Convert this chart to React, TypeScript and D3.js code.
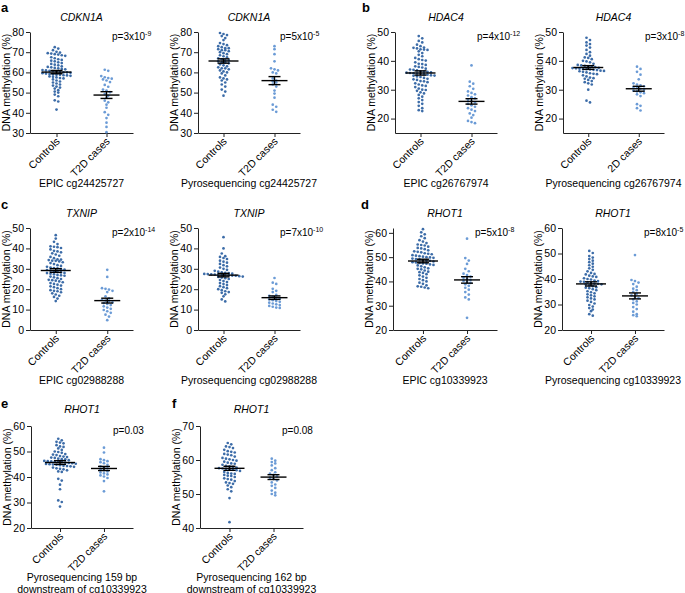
import * as d3 from "d3";
import { useEffect, useRef } from "react";

// values (% methylation)
const cdknEpicControls = [72.5, 71.8, 71.0, 70.2, 69.8, 69.5, 69.3, 69.0, 68.8, 68.5, 68.2, 67.5, 67.0, 66.5, 66.2, 65.8, 65.5, 65.0, 64.6, 64.2, 63.8, 63.5, 63.0, 62.7, 62.5, 62.2, 62.0, 61.7, 61.5, 61.2, 61.0, 60.8, 60.6, 60.4, 60.2, 60.0, 60.0, 59.8, 59.6, 59.4, 59.2, 59.0, 58.8, 58.8, 58.6, 58.5, 58.3, 58.0, 57.8, 57.5, 57.2, 57.0, 56.5, 56.0, 55.5, 55.0, 54.5, 54.0, 53.5, 53.0, 52.5, 52.0, 51.2, 50.5, 50.0, 49.0, 48.2, 46.2, 45.6, 41.6];
const cdknEpicCases = [61.3, 60.8, 58.2, 57.6, 57.2, 56.9, 56.5, 56.0, 55.2, 53.8, 52.9, 51.5, 51.0, 50.2, 49.3, 48.4, 47.5, 46.0, 45.2, 44.0, 42.5, 40.3, 39.0, 37.4, 35.1, 33.0, 30.4];
const cdknPyroControls = [79.5, 79.0, 78.5, 78.0, 77.0, 76.0, 74.5, 74.0, 73.5, 73.0, 72.5, 72.0, 72.0, 71.5, 71.0, 71.0, 70.5, 70.0, 69.5, 69.0, 68.5, 68.0, 67.5, 67.0, 66.5, 66.0, 66.0, 65.5, 65.0, 65.0, 64.5, 64.0, 63.5, 63.0, 62.5, 62.0, 62.0, 61.5, 61.0, 60.5, 60.0, 59.5, 58.5, 57.5, 57.0, 56.5, 56.0, 55.0, 54.0, 53.0, 51.5, 50.5, 48.5];
const cdknPyroCases = [73.0, 71.5, 69.0, 65.5, 62.0, 61.5, 61.0, 60.0, 59.5, 57.0, 56.0, 55.5, 55.0, 54.0, 53.0, 51.0, 49.5, 47.5, 44.0, 43.0, 41.5, 40.5];

const hdacEpicControls = [48.6, 47.8, 46.9, 46.4, 45.6, 45.1, 44.6, 44.5, 44.3, 44.0, 43.9, 43.8, 43.3, 42.7, 42.1, 41.6, 41.0, 40.6, 40.3, 40.1, 39.5, 39.0, 38.9, 38.6, 38.1, 37.9, 37.7, 37.3, 37.0, 36.9, 36.7, 36.4, 36.3, 36.2, 36.0, 35.9, 35.8, 35.7, 35.6, 35.5, 35.4, 35.2, 35.0, 34.9, 34.8, 34.6, 34.4, 34.1, 33.8, 33.6, 33.4, 33.0, 32.9, 32.6, 32.2, 31.8, 31.5, 31.3, 30.9, 30.4, 30.0, 29.9, 29.6, 29.1, 28.7, 28.2, 27.6, 27.0, 26.4, 25.7, 25.1, 24.4, 23.6, 22.9, 22.6];
const hdacEpicCases = [38.4, 32.8, 32.1, 31.2, 30.3, 29.4, 28.9, 28.4, 28.0, 27.4, 27.0, 26.5, 26.0, 25.6, 25.1, 24.6, 24.1, 23.6, 23.1, 22.6, 21.8, 21.2, 20.3, 19.2, 18.8, 18.4];
const hdacPyroControls = [48.0, 47.2, 46.4, 45.8, 45.3, 44.6, 43.8, 43.0, 42.4, 41.8, 41.2, 41.0, 40.6, 40.0, 39.8, 39.5, 39.0, 38.6, 38.4, 38.3, 38.1, 38.0, 37.8, 37.6, 37.5, 37.4, 37.3, 37.2, 37.1, 37.0, 36.9, 36.8, 36.6, 36.5, 36.4, 36.2, 36.0, 35.7, 35.5, 35.4, 35.0, 34.6, 34.2, 34.0, 33.8, 33.4, 33.0, 32.6, 32.2, 31.8, 30.0, 26.2, 25.6];
const hdacPyroCases = [38.0, 37.2, 36.2, 35.2, 33.6, 32.2, 31.8, 31.5, 31.2, 30.9, 30.6, 30.3, 30.0, 29.7, 29.4, 29.1, 28.8, 28.4, 27.8, 25.0, 24.4, 23.6, 22.8];

const txnipEpicControls = [46.5, 44.8, 43.2, 42.1, 41.0, 40.8, 40.6, 40.2, 39.5, 38.8, 38.5, 38.1, 37.6, 37.0, 36.4, 35.8, 35.2, 34.6, 34.5, 34.3, 34.0, 33.9, 33.6, 33.2, 32.8, 32.3, 31.8, 31.4, 31.0, 30.6, 30.4, 30.2, 29.8, 29.6, 29.4, 29.1, 28.8, 28.5, 28.2, 28.0, 27.9, 27.6, 27.3, 27.0, 26.8, 26.6, 26.2, 25.8, 25.4, 25.0, 24.6, 24.4, 24.2, 23.8, 23.4, 23.0, 22.6, 22.2, 21.8, 21.4, 21.0, 20.5, 20.0, 19.5, 19.2, 19.0, 18.5, 18.0, 17.4, 16.8, 16.2, 15.4, 14.2];
const txnipEpicCases = [29.5, 26.0, 20.5, 20.2, 19.8, 19.2, 18.6, 16.5, 15.5, 14.8, 14.4, 14.0, 13.6, 13.2, 12.8, 12.2, 11.6, 11.0, 10.4, 9.8, 9.2, 8.4, 7.5, 6.6, 4.8];
const txnipPyroControls = [45.5, 40.0, 37.5, 36.2, 35.8, 35.3, 34.8, 34.0, 33.5, 33.0, 32.4, 31.8, 31.2, 30.6, 30.0, 29.5, 29.0, 28.6, 28.2, 28.0, 27.9, 27.6, 27.5, 27.4, 27.3, 27.2, 27.1, 27.0, 26.9, 26.8, 26.7, 26.6, 26.4, 26.2, 26.0, 25.7, 25.4, 25.0, 24.5, 24.0, 23.5, 23.0, 22.5, 22.0, 21.5, 21.0, 20.5, 20.0, 19.5, 19.0, 18.6, 18.2, 17.5, 16.5, 15.0, 14.0];
const txnipPyroCases = [25.5, 23.2, 22.6, 20.2, 19.2, 18.6, 17.2, 16.8, 16.3, 15.8, 15.4, 15.0, 14.6, 14.2, 13.8, 13.4, 13.0, 12.6, 12.2, 11.8, 11.4, 11.0, 10.8];

const rhotEpicControls = [61.5, 60.2, 59.4, 58.6, 57.8, 57.0, 56.4, 55.8, 55.2, 55.0, 54.8, 54.3, 53.8, 53.6, 53.3, 52.8, 52.4, 52.2, 52.0, 51.6, 51.4, 51.2, 50.8, 50.6, 50.4, 50.2, 50.0, 49.9, 49.7, 49.4, 49.2, 49.1, 48.8, 48.6, 48.5, 48.2, 47.9, 47.8, 47.6, 47.4, 47.3, 47.0, 46.8, 46.6, 46.2, 45.8, 45.4, 45.2, 45.0, 44.5, 44.0, 43.8, 43.5, 43.0, 42.5, 42.0, 41.5, 41.0, 40.5, 40.0, 39.5, 39.0, 38.4, 38.0, 37.8, 37.5, 37.2];
const rhotEpicCases = [57.6, 49.6, 48.6, 47.2, 45.2, 44.2, 43.2, 42.6, 42.0, 41.5, 41.0, 40.6, 40.2, 39.8, 39.4, 38.8, 38.2, 37.4, 36.6, 35.6, 34.6, 33.4, 32.6, 25.0];
const rhotPyroControls = [51.0, 50.2, 49.0, 48.4, 47.8, 47.2, 46.6, 46.0, 45.4, 44.8, 44.2, 43.6, 43.0, 42.4, 42.0, 41.8, 41.3, 41.0, 40.8, 40.3, 40.0, 39.8, 39.4, 39.2, 39.0, 38.9, 38.7, 38.4, 38.2, 38.1, 37.9, 37.8, 37.5, 37.2, 36.8, 36.6, 36.4, 36.0, 35.6, 35.2, 34.8, 34.4, 34.0, 33.6, 33.2, 32.8, 32.4, 32.0, 31.5, 31.0, 30.4, 29.8, 29.2, 28.6, 28.0, 27.4, 26.2, 25.6];
const rhotPyroCases = [49.4, 39.6, 39.2, 38.6, 38.0, 37.0, 36.2, 35.6, 35.0, 34.2, 33.6, 33.0, 32.5, 32.0, 31.2, 30.6, 30.0, 29.0, 28.2, 27.2, 26.2, 25.8, 25.4];

const rhot159Controls = [55.0, 54.4, 53.8, 53.5, 53.2, 52.5, 52.0, 51.8, 51.2, 50.6, 50.0, 49.8, 49.5, 49.0, 48.8, 48.6, 48.2, 48.0, 47.8, 47.6, 47.5, 47.2, 47.0, 46.9, 46.6, 46.3, 46.2, 46.1, 46.0, 45.9, 45.8, 45.6, 45.5, 45.4, 45.2, 45.1, 45.0, 44.9, 44.8, 44.6, 44.4, 44.3, 44.2, 44.0, 43.7, 43.4, 43.2, 43.0, 42.6, 42.2, 42.0, 39.3, 38.6, 37.0, 35.2, 30.8, 30.2, 28.4];
const rhot159Cases = [51.5, 49.6, 47.0, 46.6, 46.2, 45.8, 45.4, 44.8, 44.2, 43.8, 43.4, 43.0, 42.6, 42.2, 41.8, 41.4, 41.0, 40.6, 40.2, 39.6, 38.4, 34.4];
const rhot162Controls = [65.0, 64.6, 64.0, 63.8, 63.5, 63.0, 62.6, 62.4, 62.2, 61.8, 61.6, 61.4, 61.0, 60.6, 60.4, 60.2, 60.0, 59.8, 59.5, 59.2, 59.0, 58.9, 58.6, 58.3, 58.1, 58.0, 57.8, 57.6, 57.5, 57.4, 57.2, 57.1, 57.0, 56.8, 56.5, 56.2, 56.0, 55.9, 55.6, 55.4, 55.3, 55.0, 54.6, 54.4, 54.2, 53.8, 53.4, 53.2, 53.0, 52.5, 52.0, 51.4, 50.8, 48.8, 41.7];
const rhot162Cases = [60.4, 59.8, 59.4, 59.0, 58.4, 57.6, 57.0, 56.4, 56.0, 55.6, 55.2, 54.8, 54.4, 54.0, 53.4, 52.8, 52.4, 51.8, 51.0, 50.4, 50.0, 49.6];

const genes = ["CDKN1A", "CDKN1A", "HDAC4", "HDAC4", "TXNIP", "TXNIP", "RHOT1", "RHOT1", "RHOT1", "RHOT1"];
const pValues = ["3x10^-9", "5x10^-5", "4x10^-12", "3x10^-8", "2x10^-14", "7x10^-10", "5x10^-8", "8x10^-5", "0.03", "0.08"];
const captions = [
  ["EPIC cg24425727"], ["Pyrosequencing cg24425727"],
  ["EPIC cg26767974"], ["Pyrosequencing cg26767974"],
  ["EPIC cg02988288"], ["Pyrosequencing cg02988288"],
  ["EPIC cg10339923"], ["Pyrosequencing cg10339923"],
  ["Pyrosequencing 159 bp", "downstream of cg10339923"],
  ["Pyrosequencing 162 bp", "downstream of cg10339923"],
];
const caseLabels = ["T2D cases", "T2D cases", "T2D cases", "2D cases", "T2D cases", "T2D cases", "T2D cases", "T2D cases", "T2D cases", "T2D cases"];
const yDomains = [[30, 80], [30, 80], [15, 50], [15, 50], [0, 50], [0, 50], [20, 62], [20, 60], [20, 60], [40, 70]];
const yTicks = [
  [30, 40, 50, 60, 70, 80], [30, 40, 50, 60, 70, 80],
  [20, 30, 40, 50], [20, 30, 40, 50],
  [0, 10, 20, 30, 40, 50], [0, 10, 20, 30, 40, 50],
  [20, 30, 40, 50, 60], [20, 30, 40, 50, 60],
  [20, 30, 40, 50, 60], [40, 50, 60, 70],
];
const controls = [cdknEpicControls, cdknPyroControls, hdacEpicControls, hdacPyroControls, txnipEpicControls, txnipPyroControls, rhotEpicControls, rhotPyroControls, rhot159Controls, rhot162Controls];
const cases = [cdknEpicCases, cdknPyroCases, hdacEpicCases, hdacPyroCases, txnipEpicCases, txnipPyroCases, rhotEpicCases, rhotPyroCases, rhot159Cases, rhot162Cases];
const panelLetters = ["a", "b", "c", "d", "e", "f"];

// layout
const frames = [
  { left: 30, right: 133, row: 0, pad: 0.53 },
  { left: 198, right: 300, row: 0, pad: 0.5 },
  { left: 395, right: 497, row: 0, pad: 0.5 },
  { left: 563, right: 664, row: 0, pad: 0.5 },
  { left: 30, right: 133, row: 1, pad: 0.5 },
  { left: 198, right: 300, row: 1, pad: 0.5 },
  { left: 393, right: 497, row: 1, pad: 0.68 },
  { left: 562, right: 664, row: 1, pad: 0.66 },
  { left: 31, right: 133, row: 2, pad: 0.66 },
  { left: 200, right: 303, row: 2, pad: 0.67 },
];
const rows = [
  { top: 32, bottom: 133, title: 21, caption: 187, letter: 12 },
  { top: 228, bottom: 330, title: 217, caption: 384, letter: 209 },
  { top: 426, bottom: 528, title: 413, caption: 581, letter: 408 },
];
const letterPos = [[1, 0], [362, 0], [1, 1], [361, 1], [1, 2], [172, 2]];

const FONT = "'Liberation Sans', Arial, Helvetica, sans-serif";
const CONTROL_COLOR = "#3c6ca8";
const CASE_COLOR = "#6b9bd6";

// GraphPad-like scatter: points grouped in rows, spread sideways
function swarm(values: number[], y: (v: number) => number, cx: number) {
  const pts = values.map((v) => ({ v, py: y(v) })).sort((a, b) => a.py - b.py);
  const out: { x: number; y: number }[] = [];
  let row: { v: number; py: number }[] = [];
  const flush = () => {
    row.forEach((p, i) => out.push({ x: cx + (i - (row.length - 1) / 2) * 3.5, y: p.py }));
    row = [];
  };
  pts.forEach((p) => {
    if (row.length && p.py - row[0].py > 3.0) flush();
    row.push(p);
  });
  flush();
  return out;
}

const App = () => {
  const svgRef = useRef<SVGSVGElement>(null);

  useEffect(() => {
    document.body.style.margin = "0";
    const svg = d3.select(svgRef.current);
    svg.selectAll("*").remove();

    frames.forEach((f, i) => {
      const r = rows[f.row];
      const g = svg.append("g");
      const y = d3.scaleLinear().domain(yDomains[i]).range([r.bottom, r.top]);
      const x = d3.scalePoint<string>().domain(["Controls", caseLabels[i]]).range([f.left, f.right]).padding(f.pad);

      // axes
      const yAxis = g.append("g").attr("transform", `translate(${f.left},0)`)
        .call(d3.axisLeft(y).tickValues(yTicks[i]).tickSize(4).tickSizeOuter(0).tickPadding(2));
      const xAxis = g.append("g").attr("transform", `translate(0,${r.bottom})`)
        .call(d3.axisBottom(x).tickSize(4).tickSizeOuter(0).tickFormat(() => ""));
      [yAxis, xAxis].forEach((a) => {
        a.selectAll("path,line").attr("stroke", "#222").attr("stroke-width", 1);
        a.selectAll("text").attr("font-family", FONT).attr("font-size", 10.5).attr("fill", "#000");
      });

      x.domain().forEach((c) => {
        g.append("text")
          .attr("transform", `translate(${(x(c) as number) + 4},${r.bottom + 9}) rotate(-45)`)
          .attr("text-anchor", "end")
          .attr("font-family", FONT).attr("font-size", 10.5)
          .text(c);
      });

      // y label
      g.append("text")
        .attr("transform", `translate(${f.left - 20},${(r.top + r.bottom) / 2}) rotate(-90)`)
        .attr("text-anchor", "middle")
        .attr("font-family", FONT).attr("font-size", 10.5)
        .text("DNA methylation (%)");

      // title
      g.append("text")
        .attr("x", (f.left + f.right) / 2).attr("y", r.title)
        .attr("text-anchor", "middle").attr("font-style", "italic")
        .attr("font-family", FONT).attr("font-size", 10.5)
        .text(genes[i]);

      // caption
      captions[i].forEach((line, k) => {
        g.append("text")
          .attr("x", (f.left + f.right) / 2).attr("y", r.caption + k * 11.5)
          .attr("text-anchor", "middle")
          .attr("font-family", FONT).attr("font-size", 10.5)
          .text(line);
      });

      // p-value
      const [base, exp] = pValues[i].split("^");
      const pt = g.append("text")
        .attr("x", f.left + 82).attr("y", r.top + 8)
        .attr("font-family", FONT).attr("font-size", 10)
        .text(`p=${base}`);
      if (exp) pt.append("tspan").attr("dy", -4).attr("font-size", 7).text(exp);

      // dots, mean and SEM
      [controls[i], cases[i]].forEach((vals, k) => {
        const cx = x(x.domain()[k]) as number;
        const color = k === 0 ? CONTROL_COLOR : CASE_COLOR;
        g.append("g").selectAll("circle")
          .data(swarm(vals, y, cx))
          .join("circle")
          .attr("cx", (d) => d.x).attr("cy", (d) => d.y)
          .attr("r", 1.35).attr("fill", color);

        const m = d3.mean(vals) as number;
        const sem = (d3.deviation(vals) as number) / Math.sqrt(vals.length);
        const half = k === 0 ? 15 : 13;
        const lines = [
          [cx - half, y(m), cx + half, y(m)],
          [cx, y(m - sem), cx, y(m + sem)],
          [cx - 6, y(m - sem), cx + 6, y(m - sem)],
          [cx - 6, y(m + sem), cx + 6, y(m + sem)],
        ];
        g.append("g").selectAll("line").data(lines).join("line")
          .attr("x1", (d) => d[0]).attr("y1", (d) => d[1])
          .attr("x2", (d) => d[2]).attr("y2", (d) => d[3])
          .attr("stroke", "#000").attr("stroke-width", 1.4);
      });
    });

    // panel letters
    letterPos.forEach(([lx, row], i) => {
      svg.append("text")
        .attr("x", lx).attr("y", rows[row].letter)
        .attr("font-family", FONT).attr("font-weight", "bold").attr("font-size", 13)
        .text(panelLetters[i]);
    });
  }, []);

  return <svg ref={svgRef} width={685} height={593} style={{ display: "block", background: "#fff" }}></svg>;
};

export default App;
